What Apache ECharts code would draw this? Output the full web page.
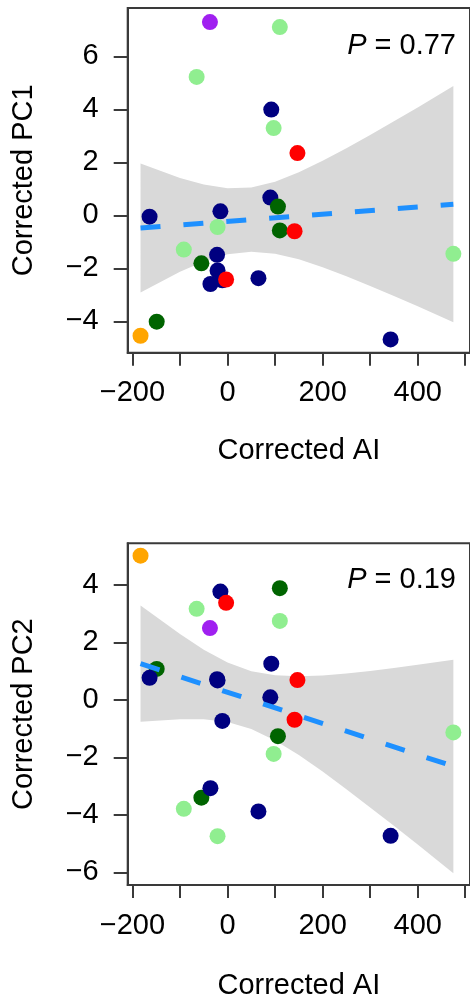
<!DOCTYPE html>
<html>
<head>
<meta charset="utf-8">
<script src="https://cdn.jsdelivr.net/npm/echarts@6/dist/echarts.min.js"></script>
<style>
  html, body { margin: 0; padding: 0; background: #fff; }
  #chart { width: 470px; height: 1001px; }
</style>
</head>
<body>
<div id="chart"></div>
<script>
// samples grouped by point colour
const navyAI = [92, 90, -164, -15, -22, -21, -36, -11, 65, 343];
const navyPC1 = [3.99, 0.67, -0.05, 0.15, -1.49, -2.08, -2.59, -2.45, -2.37, -4.68];
const navyPC2 = [1.26, 0.09, 0.77, 3.77, 0.72, 0.68, -3.07, -0.73, -3.88, -4.73];

const lightgreenAI = [110, -65, 97, -21, -92, 475];
const lightgreenPC1 = [7.1, 5.22, 3.29, -0.44, -1.29, -1.45];
const lightgreenPC2 = [2.75, 3.17, -1.88, -4.74, -3.79, -1.13];

const darkgreenAI = [106, 110, -55, -149];
const darkgreenPC1 = [0.33, -0.57, -1.81, -4.01];
const darkgreenPC2 = [-1.26, 3.89, -3.4, 1.08];

const redAI = [147, 141, -3];
const redPC1 = [2.35, -0.6, -2.42];
const redPC2 = [0.69, -0.69, 3.38];

const orangeAI = [-183];
const orangePC1 = [-4.54];
const orangePC2 = [5.02];

const purpleAI = [-37];
const purplePC1 = [7.29];
const purplePC2 = [2.5];

// fitted lines and confidence bands
const fitAI = [-183, 475];
const fitPC1 = [-0.48, 0.42];
const fitPC2 = [1.26, -2.31];

const bandAI = [-183, -100, -50, 0, 50, 100, 150, 200, 250, 300, 350, 400, 475];
const bandPC1Upper = [1.96, 1.41, 1.16, 1.02, 1.05, 1.27, 1.63, 2.06, 2.53, 3.03, 3.55, 4.07, 4.88];
const bandPC1Lower = [-2.91, -2.13, -1.74, -1.47, -1.37, -1.45, -1.66, -1.96, -2.30, -2.66, -3.04, -3.43, -4.03];
const bandPC2Upper = [3.29, 2.29, 1.75, 1.30, 1.00, 0.86, 0.82, 0.85, 0.92, 1.01, 1.11, 1.22, 1.40];
const bandPC2Lower = [-0.76, -0.67, -0.67, -0.77, -1.01, -1.41, -1.92, -2.49, -3.11, -3.74, -4.38, -5.03, -6.03];

const xTicks = [-200, -100, 0, 100, 200, 300, 400, 500];
const xTickLabels = [-200, 0, 200, 400];
const pc1Ticks = [-4, -2, 0, 2, 4, 6];
const pc2Ticks = [-6, -4, -2, 0, 2, 4];
const pLabels = ["0.77", "0.19"];

const FONT = '"Liberation Sans", Arial, sans-serif';
const AXIS_COLOR = "#3a3a3a";
const minus = (v) => String(v).replace("-", "\u2212");

const groups = [
  { color: "#000080", ai: navyAI, pc: [navyPC1, navyPC2] },
  { color: "#90EE90", ai: lightgreenAI, pc: [lightgreenPC1, lightgreenPC2] },
  { color: "#006400", ai: darkgreenAI, pc: [darkgreenPC1, darkgreenPC2] },
  { color: "#FF0000", ai: redAI, pc: [redPC1, redPC2] },
  { color: "#FFA500", ai: orangeAI, pc: [orangePC1, orangePC2] },
  { color: "#A020F0", ai: purpleAI, pc: [purplePC1, purplePC2] },
];
const panels = [
  { ticks: pc1Ticks, min: -5.18, max: 7.82, name: "Corrected PC1", fit: fitPC1, upper: bandPC1Upper, lower: bandPC1Lower, nameGap: 84 },
  { ticks: pc2Ticks, min: -6.44, max: 5.45, name: "Corrected PC2", fit: fitPC2, upper: bandPC2Upper, lower: bandPC2Lower, nameGap: 86 },
];

const chart = echarts.init(document.getElementById("chart"));

const series = [];
panels.forEach((p, i) => {
  // confidence band as one polygon: upper edge left to right, lower edge back
  series.push({
    type: "custom", xAxisIndex: i, yAxisIndex: i, silent: true, z: 1,
    data: [[bandAI[0], p.upper[0]]],
    renderItem: (params, api) => {
      const top = bandAI.map((x, k) => api.coord([x, p.upper[k]]));
      const bottom = bandAI.map((x, k) => api.coord([x, p.lower[k]])).reverse();
      return { type: "polygon", shape: { points: top.concat(bottom) }, style: { fill: "#D9D9D9" } };
    },
  });
  const order = i === 0 ? [0, 1, 2, 3, 4, 5] : [2, 1, 0, 3, 4, 5];
  order.forEach((g) => {
    const grp = groups[g];
    series.push({
      type: "scatter", xAxisIndex: i, yAxisIndex: i,
      data: grp.ai.map((x, k) => [x, grp.pc[i][k]]),
      symbolSize: 16, itemStyle: { color: grp.color, opacity: 1 }, z: 3,
    });
  });
  series.push({
    type: "line", xAxisIndex: i, yAxisIndex: i,
    data: fitAI.map((x, k) => [x, p.fit[k]]),
    showSymbol: false, silent: true,
    lineStyle: { color: "#1E90FF", width: 5, type: [20, 23], cap: "butt" }, z: 4,
  });
});

chart.setOption({
  animation: false,
  backgroundColor: "#fff",
  textStyle: { fontFamily: FONT },
  grid: [
    { left: 127.7, top: 8, width: 346, height: 344.7, show: true, borderColor: AXIS_COLOR, borderWidth: 2, backgroundColor: "transparent" },
    { left: 127.7, top: 543.3, width: 346, height: 342.4, show: true, borderColor: AXIS_COLOR, borderWidth: 2, backgroundColor: "transparent" },
  ],
  xAxis: panels.map((p, i) => ({
    type: "value", gridIndex: i, min: -210, max: 510,
    name: "Corrected AI", nameLocation: "middle", nameGap: p.nameGap,
    nameTextStyle: { fontSize: 29, color: "#000", fontFamily: FONT },
    axisLine: { show: true, onZero: false, lineStyle: { color: AXIS_COLOR, width: 2 } },
    axisTick: { show: true, inside: false, length: 13, customValues: xTicks, lineStyle: { color: AXIS_COLOR, width: 2 } },
    axisLabel: { customValues: xTickLabels, margin: 26, fontSize: 29, color: "#000", fontFamily: FONT, formatter: minus },
    splitLine: { show: false },
  })),
  yAxis: panels.map((p, i) => ({
    type: "value", gridIndex: i, min: p.min, max: p.max,
    name: p.name, nameLocation: "middle", nameGap: 89,
    nameTextStyle: { fontSize: 29, color: "#000", fontFamily: FONT },
    axisLine: { show: true, onZero: false, lineStyle: { color: AXIS_COLOR, width: 2 } },
    axisTick: { show: true, inside: false, length: 14, customValues: p.ticks, lineStyle: { color: AXIS_COLOR, width: 2 } },
    axisLabel: { customValues: p.ticks, margin: 29, fontSize: 29, color: "#000", fontFamily: FONT, formatter: minus },
    splitLine: { show: false },
  })),
  graphic: pLabels.map((v, i) => ({
    type: "text", right: 14, top: i === 0 ? 31 : 565, z: 10,
    style: {
      text: "{i|P} = " + v,
      fill: "#000",
      font: "29px " + FONT,
      rich: { i: { fontStyle: "italic", fontSize: 29, fontFamily: FONT } },
    },
  })),
  series: series,
});
</script>
</body>
</html>
